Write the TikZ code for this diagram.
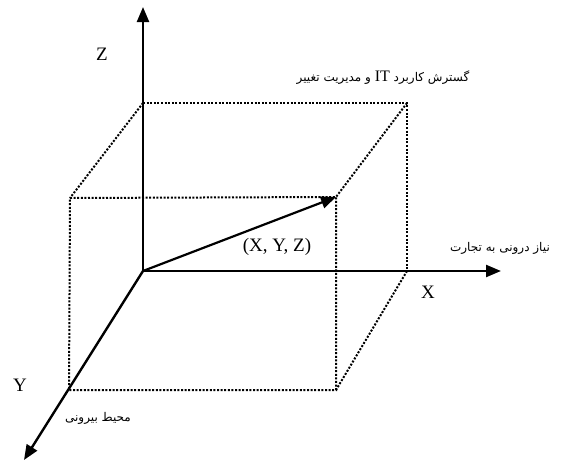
\documentclass[tikz,border=0pt]{standalone}
\usepackage{fontspec}
\setmainfont{Liberation Serif}
\newfontfamily\farsifont[Script=Arabic]{DejaVu Sans}
\usetikzlibrary{arrows.meta}
\TeXXeTstate=1

\begin{document}
\begin{tikzpicture}[x=1pt, y=-1pt,
		axis/.style={line width=2.4pt, -{Triangle[length=15pt,width=12pt]}},
		edge/.style={line width=2pt, dash pattern=on 2pt off 1.6pt},
		lbl/.style={font=\fontsize{19}{21}\selectfont, inner sep=0pt},
		flbl/.style={font=\farsifont\fontsize{12}{14}\selectfont, inner sep=0pt}]
	\useasboundingbox (0,0) rectangle (566,463);
	% corners of the box
	\coordinate (o) at (143,271);
	\coordinate (btl) at (143,103);
	\coordinate (btr) at (407,103);
	\coordinate (bbr) at (407,271);
	\coordinate (ftl) at (70,198);
	\coordinate (ftr) at (336,197);
	\coordinate (fbr) at (336,390);
	\coordinate (fbl) at (69,390);
	% axis ends
	\coordinate (zend) at (143,7);
	\coordinate (xend) at (501,271);
	\coordinate (yend) at (24,460);
	% dotted box
	\draw[edge] (btl) -- (btr) -- (bbr);
	\draw[edge] (ftl) -- (ftr) -- (fbr) -- (fbl) -- cycle;
	\draw[edge] (btl) -- (ftl);
	\draw[edge] (btr) -- (ftr);
	\draw[edge] (bbr) -- (fbr);
	% axes and vector
	\draw[axis] (o) -- (zend);
	\draw[axis] (o) -- (xend);
	\draw[axis] (o) -- (yend);
	\draw[axis, line width=2.2pt] (o) -- (ftr);
	% labels
	\node[lbl] (zl) at (102,54) {Z};
	\node[lbl] (xl) at (428,292) {X};
	\node[lbl] (yl) at (20,385) {Y};
	\node[lbl] (pl) at (277,247) {(X, Y, Z)};
	\node[flbl] (zt) at (383,78) {\beginR گسترش کاربرد \beginL{\rmfamily\fontsize{16}{18}\selectfont IT}\endL{} و مدیریت تغییر\endR};
	\node[flbl] (xt) at (500,248) {\beginR نیاز درونی به تجارت\endR};
	\node[flbl] (yt) at (98,418) {\beginR محیط بیرونی\endR};
\end{tikzpicture}
\end{document}
